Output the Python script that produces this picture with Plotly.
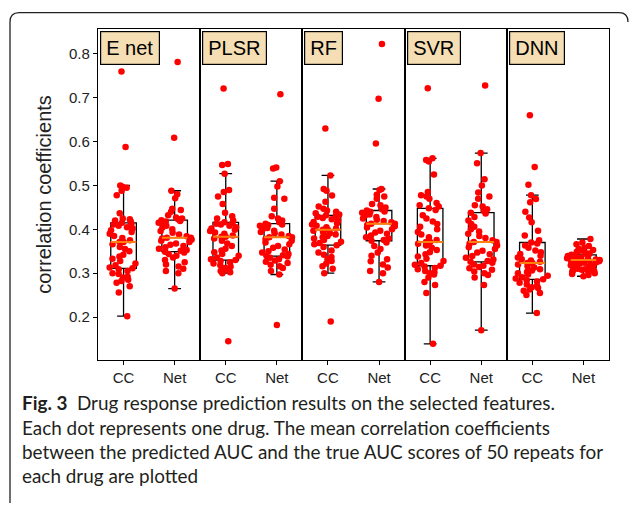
import plotly.graph_objects as go
from plotly.subplots import make_subplots
import numpy as np

models = ["E net", "PLSR", "RF", "SVR", "DNN"]
groups = ["CC", "Net"]

enet_cc = [0.202, 0.256, 0.270, 0.278, 0.282, 0.285, 0.290, 0.292, 0.298, 0.300, 0.305, 0.309,
           0.311, 0.313, 0.318, 0.322, 0.328, 0.333, 0.338, 0.342, 0.350, 0.355, 0.360, 0.366,
           0.371, 0.371, 0.375, 0.380, 0.385, 0.390, 0.394, 0.398, 0.402, 0.405, 0.408, 0.411,
           0.413, 0.415, 0.418, 0.420, 0.423, 0.425, 0.437, 0.478, 0.488, 0.495, 0.497, 0.500,
           0.588, 0.760]
enet_net = [0.265, 0.300, 0.305, 0.310, 0.315, 0.320, 0.325, 0.330, 0.336, 0.340, 0.344, 0.347,
            0.349, 0.351, 0.353, 0.356, 0.359, 0.362, 0.365, 0.368, 0.371, 0.374, 0.377, 0.379,
            0.381, 0.381, 0.384, 0.388, 0.392, 0.396, 0.400, 0.404, 0.408, 0.412, 0.415, 0.418,
            0.419, 0.421, 0.423, 0.425, 0.427, 0.432, 0.440, 0.444, 0.447, 0.471, 0.480, 0.488,
            0.609, 0.782]
plsr_cc = [0.145, 0.300, 0.302, 0.305, 0.308, 0.310, 0.312, 0.315, 0.318, 0.322, 0.325, 0.328,
           0.330, 0.332, 0.336, 0.340, 0.344, 0.348, 0.352, 0.356, 0.362, 0.368, 0.374, 0.379,
           0.383, 0.383, 0.386, 0.390, 0.393, 0.396, 0.399, 0.402, 0.405, 0.408, 0.411, 0.413,
           0.414, 0.416, 0.420, 0.425, 0.430, 0.438, 0.458, 0.475, 0.485, 0.490, 0.527, 0.547,
           0.549, 0.721]
plsr_net = [0.182, 0.297, 0.305, 0.312, 0.316, 0.319, 0.323, 0.326, 0.329, 0.332, 0.335, 0.338,
            0.339, 0.341, 0.344, 0.347, 0.350, 0.354, 0.358, 0.362, 0.366, 0.370, 0.374, 0.378,
            0.382, 0.382, 0.385, 0.388, 0.391, 0.394, 0.397, 0.400, 0.403, 0.406, 0.408, 0.410,
            0.411, 0.413, 0.416, 0.420, 0.425, 0.430, 0.447, 0.470, 0.472, 0.498, 0.510, 0.539,
            0.541, 0.708]
rf_cc = [0.190, 0.300, 0.310, 0.316, 0.322, 0.328, 0.332, 0.337, 0.342, 0.347, 0.352, 0.360,
         0.364, 0.366, 0.369, 0.372, 0.376, 0.379, 0.382, 0.385, 0.388, 0.391, 0.394, 0.397,
         0.399, 0.399, 0.402, 0.405, 0.408, 0.411, 0.414, 0.417, 0.420, 0.423, 0.426, 0.429,
         0.430, 0.432, 0.434, 0.437, 0.440, 0.443, 0.447, 0.452, 0.463, 0.477, 0.488, 0.492,
         0.523, 0.630]
rf_net = [0.280, 0.300, 0.305, 0.313, 0.320, 0.327, 0.332, 0.340, 0.347, 0.355, 0.362, 0.370,
          0.374, 0.376, 0.379, 0.382, 0.386, 0.390, 0.393, 0.397, 0.400, 0.404, 0.407, 0.410,
          0.413, 0.413, 0.416, 0.419, 0.422, 0.425, 0.428, 0.431, 0.434, 0.436, 0.438, 0.440,
          0.441, 0.443, 0.446, 0.450, 0.455, 0.458, 0.470, 0.475, 0.479, 0.490, 0.492, 0.596,
          0.698, 0.823]
svr_cc = [0.139, 0.255, 0.273, 0.280, 0.290, 0.297, 0.300, 0.302, 0.305, 0.309, 0.312, 0.315,
          0.317, 0.319, 0.323, 0.328, 0.333, 0.338, 0.343, 0.348, 0.353, 0.358, 0.363, 0.367,
          0.371, 0.371, 0.376, 0.382, 0.388, 0.394, 0.400, 0.406, 0.412, 0.418, 0.425, 0.432,
          0.444, 0.448, 0.452, 0.455, 0.460, 0.470, 0.475, 0.478, 0.485, 0.525, 0.555, 0.558,
          0.562, 0.722]
svr_net = [0.170, 0.273, 0.290, 0.296, 0.300, 0.304, 0.308, 0.311, 0.314, 0.317, 0.320, 0.324,
           0.326, 0.328, 0.331, 0.335, 0.339, 0.343, 0.347, 0.351, 0.355, 0.359, 0.363, 0.367,
           0.371, 0.371, 0.375, 0.380, 0.385, 0.390, 0.395, 0.400, 0.406, 0.412, 0.420, 0.428,
           0.436, 0.438, 0.442, 0.446, 0.452, 0.455, 0.470, 0.475, 0.484, 0.500, 0.514, 0.551,
           0.574, 0.728]
dnn_cc = [0.209, 0.250, 0.255, 0.260, 0.263, 0.266, 0.268, 0.271, 0.274, 0.278, 0.281, 0.284,
          0.286, 0.288, 0.291, 0.294, 0.297, 0.300, 0.303, 0.306, 0.309, 0.313, 0.316, 0.320,
          0.323, 0.323, 0.326, 0.329, 0.332, 0.336, 0.340, 0.344, 0.348, 0.352, 0.358, 0.363,
          0.368, 0.370, 0.375, 0.386, 0.397, 0.416, 0.427, 0.440, 0.462, 0.469, 0.478, 0.502,
          0.542, 0.660]
dnn_net = [0.293, 0.296, 0.298, 0.300, 0.302, 0.304, 0.305, 0.307, 0.308, 0.309, 0.310, 0.311,
           0.312, 0.314, 0.316, 0.318, 0.320, 0.321, 0.322, 0.324, 0.325, 0.326, 0.327, 0.328,
           0.330, 0.330, 0.331, 0.332, 0.333, 0.334, 0.335, 0.336, 0.337, 0.338, 0.339, 0.340,
           0.341, 0.342, 0.343, 0.345, 0.347, 0.349, 0.351, 0.353, 0.356, 0.358, 0.362, 0.366,
           0.370, 0.378]

cc_series = [enet_cc, plsr_cc, rf_cc, svr_cc, dnn_cc]
net_series = [enet_net, plsr_net, rf_net, svr_net, dnn_net]

y_ticks = [0.2, 0.3, 0.4, 0.5, 0.6, 0.7, 0.8]
y_title = "correlation coefficients"
caption_lines = [
    "<b>Fig. 3</b>\u2002Drug response prediction results on the selected features.",
    "Each dot represents one drug. The mean correlation coefficients",
    "between the predicted AUC and the true AUC scores of 50 repeats for",
    "each drug are plotted",
]

W, H = 629, 506
ML, MR, MT, MB = 98, 20, 29, 146
PW, PH = W - ML - MR, H - MT - MB


def px(x):
    return (x - ML) / PW


def py(y):
    return (H - MB - y) / PH


fig = make_subplots(rows=1, cols=5, shared_yaxes=True, horizontal_spacing=0)

AX_FONT = dict(family="Liberation Sans, Arial", size=15, color="#222")

for i, (m, cc, net) in enumerate(zip(models, cc_series, net_series)):
    col = i + 1
    xs = [groups[0]] * len(cc) + [groups[1]] * len(net)
    ys = cc + net
    # box outline with 1.5*IQR whiskers (points hidden)
    fig.add_trace(go.Box(
        x=xs, y=ys, boxpoints="all", jitter=0, pointpos=0, width=0.5,
        whiskerwidth=0.5, line=dict(color="black", width=1.3),
        fillcolor="rgba(0,0,0,0)", marker=dict(opacity=0, size=1),
        showlegend=False, hoverinfo="skip",
    ), row=1, col=col)
    # jittered points, drawn over the box
    fig.add_trace(go.Box(
        x=xs, y=ys, boxpoints="all", jitter=1.0, pointpos=0, width=0.68,
        line=dict(color="rgba(0,0,0,0)", width=0),
        fillcolor="rgba(0,0,0,0)",
        marker=dict(color="#ff0000", size=6.5, line=dict(width=0)),
        showlegend=False, hoverinfo="skip",
    ), row=1, col=col)
    meds = [float(np.median(cc)), float(np.median(net))]
    fig.add_trace(go.Box(
        x=groups, q1=meds, median=meds, q3=meds, lowerfence=meds, upperfence=meds,
        boxpoints=False, width=0.5, whiskerwidth=1.0,
        line=dict(color="#ff7f0e", width=2),
        fillcolor="rgba(0,0,0,0)",
        showlegend=False, hoverinfo="skip",
    ), row=1, col=col)
    xr = "x domain" if col == 1 else f"x{col} domain"
    fig.add_annotation(
        text=m, xref=xr, yref="y domain", x=0, y=1, xanchor="left", yanchor="top",
        xshift=2, yshift=-2, showarrow=False,
        font=dict(family="Liberation Sans, Arial", size=20, color="black"),
        bgcolor="#f5deb3", bordercolor="black", borderwidth=1.2, borderpad=5,
    )
    fig.update_xaxes(
        row=1, col=col, type="category", categoryorder="array", categoryarray=groups,
        range=[-0.5, 1.5], showline=True, mirror=True, linecolor="black", linewidth=1.2,
        ticks="outside", ticklen=4, tickcolor="black", tickfont=AX_FONT,
        showgrid=False, zeroline=False, automargin=False,
    )
    fig.update_yaxes(
        row=1, col=col, range=[0.102, 0.857], showline=True, mirror=True,
        linecolor="black", linewidth=1.2, showgrid=False, zeroline=False,
        ticks="outside" if col == 1 else "", ticklen=4, tickcolor="black",
        tickvals=y_ticks, tickformat=".1f", tickfont=AX_FONT,
        showticklabels=(col == 1), automargin=False,
    )

fig.update_yaxes(row=1, col=1, title=dict(text=y_title, standoff=12,
                 font=dict(family="Liberation Sans, Arial", size=20, color="#222")))

cap_y = [402, 427, 451, 475]
for t, yy in zip(caption_lines, cap_y):
    fig.add_annotation(
        text=t, xref="paper", yref="paper", x=px(21), y=py(yy),
        xanchor="left", yanchor="middle", showarrow=False, borderpad=0,
        font=dict(family="Lato", size=18.9, color="#231f20"), align="left",
    )

frame = (f"M {px(10)},{py(503)} L {px(10)},{py(22)} Q {px(10)},{py(12.7)} {px(19)},{py(12.7)} "
         f"L {px(619)},{py(12.7)} Q {px(628)},{py(12.7)} {px(628)},{py(22)}")
fig.add_shape(type="path", path=frame, xref="paper", yref="paper",
              line=dict(color="#222", width=1.3))

fig.update_layout(
    width=W, height=H, margin=dict(l=ML, r=MR, t=MT, b=MB, autoexpand=False),
    paper_bgcolor="white", plot_bgcolor="white", boxmode="overlay",
)

fig.write_html("out.html", config={"displayModeBar": False},
               post_script="document.body.style.margin='0px';")
